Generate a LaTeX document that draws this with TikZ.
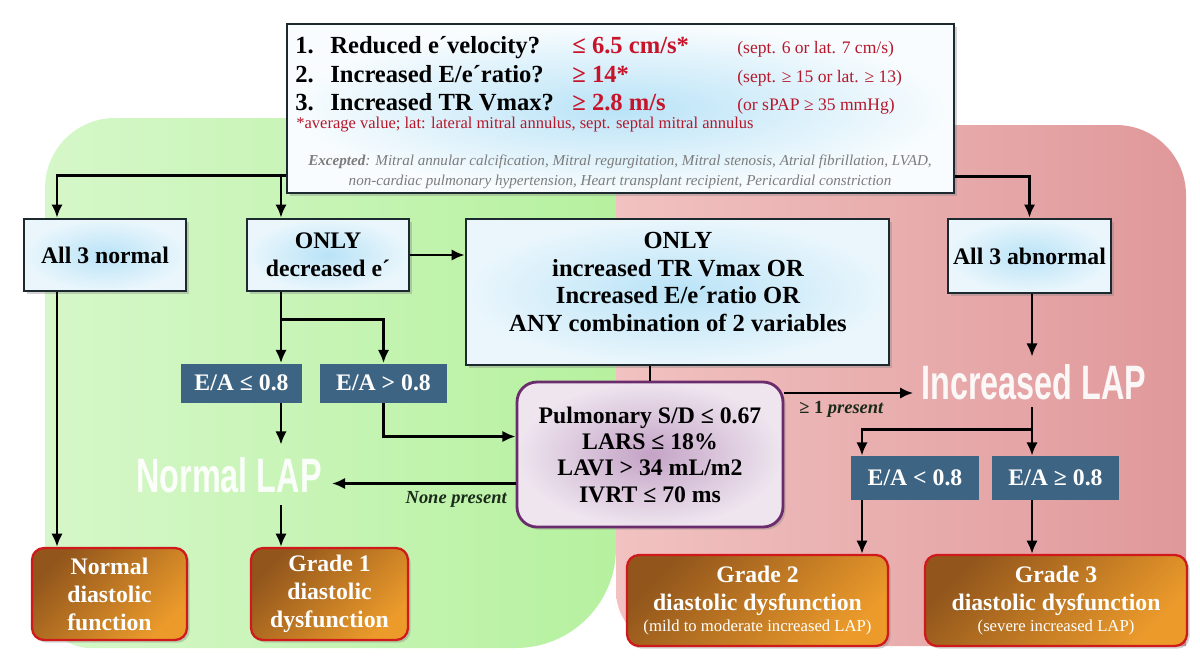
\documentclass[tikz,border=0pt]{standalone}
\usepackage{fontspec}
\setmainfont{Liberation Serif}
\newfontfamily\condfont[FakeStretch=0.67]{Liberation Sans}
\usetikzlibrary{arrows.meta,shadows,calc}
\definecolor{grnL}{HTML}{D6F7C9}
\definecolor{grnR}{HTML}{B6F19F}
\definecolor{redL}{HTML}{F1C2C1}
\definecolor{redR}{HTML}{E0989A}
\definecolor{bluIn}{HTML}{B9E3F7}
\definecolor{bluOut}{HTML}{EAF6FC}
\definecolor{boxLine}{HTML}{1C2A30}
\definecolor{slate}{HTML}{3D6483}
\definecolor{orA}{HTML}{92561C}
\definecolor{orB}{HTML}{EC9B2B}
\definecolor{orLine}{HTML}{D0191B}
\definecolor{puIn}{HTML}{C4A3C6}
\definecolor{puOut}{HTML}{EEE5EF}
\definecolor{puLine}{HTML}{6A2C6C}
\definecolor{valRed}{HTML}{C8142A}
\definecolor{noteRed}{HTML}{B5172B}
\definecolor{grayTxt}{HTML}{7C7C7C}
\definecolor{darkTxt}{HTML}{1A2A1A}
\tikzset{
  shad/.style={drop shadow={opacity=0.35,shadow xshift=1.5pt,shadow yshift=-1.5pt}},
  lbox/.style={draw=boxLine, line width=1.5pt, inner color=bluIn, outer color=bluOut, shad,
    font=\bfseries\fontsize{13.5}{15.9}\selectfont, align=center, inner sep=0pt},
  sbox/.style={fill=slate, text=white, font=\bfseries\fontsize{13.5}{15}\selectfont, inner sep=0pt},
  obox/.style={draw=orLine, line width=1.3pt, rounded corners=0.24cm, top color=orA, bottom color=orB,
    shading angle=45, text=white, font=\bfseries\fontsize{13.5}{15.9}\selectfont, align=center,
    inner sep=0pt, shad},
  pbox/.style={draw=puLine, line width=1.6pt, rounded corners=0.4cm, inner color=puIn, outer color=puOut,
    font=\bfseries\fontsize{13.5}{15}\selectfont, align=center, inner sep=0pt, shad},
  lap/.style={text=white, text opacity=0.92, font=\condfont\bfseries\fontsize{27.5}{30}\selectfont, inner sep=0pt},
  qtxt/.style={anchor=base west, inner sep=0pt, font=\bfseries\fontsize{14}{16}\selectfont},
  vtxt/.style={anchor=base west, inner sep=0pt, text=valRed, font=\bfseries\fontsize{14}{16}\selectfont},
  ntxt/.style={anchor=base west, inner sep=0pt, text=noteRed, font=\fontsize{10}{12}\selectfont},
  etxt/.style={anchor=base, inner sep=0pt, text=grayTxt, font=\itshape\fontsize{8.6}{10}\selectfont},
  arr/.style={line width=1.6pt, -{Latex[length=7.5pt,width=6.5pt]}},
  conn/.style={line width=1.6pt},
}
\begin{document}
\begin{tikzpicture}[x=0.02cm,y=-0.02cm]
\useasboundingbox (0,0) rectangle (1200,663);
% background regions
\shade[left color=grnL, right color=grnR] (616,118) -- (115,118)
  arc[start angle=270, end angle=180, radius=70] -- (45,603)
  arc[start angle=180, end angle=90, radius=45] -- (516,648)
  arc[start angle=90, end angle=0, radius=100] -- cycle;
\shade[left color=redL, right color=redR] (616,125) -- (1116,125)
  arc[start angle=270, end angle=360, radius=70] -- (1186,646) -- (671,646)
  arc[start angle=90, end angle=180, radius=55] -- cycle;

% column coordinates
\coordinate (c57) at (57,0);
\coordinate (c281) at (281,0);
\coordinate (c862) at (862,0);
\coordinate (c1032) at (1032,0);

% top box
\node[lbox, minimum width=13.34cm, minimum height=3.38cm, outer color=white!70!bluOut] (T) at (620.5,108.5) {};
\node[qtxt] (q1n) at (295,53) {1.};
\node[qtxt] (q1) at (330,53) {Reduced e´velocity?};
\node[vtxt] (v1) at (572,53) {≤ 6.5 cm/s*};
\node[ntxt] (n1) at (737,53) {(sept. 6 or lat. 7 cm/s)};
\node[qtxt] (q2n) at (295,82) {2.};
\node[qtxt] (q2) at (330,82) {Increased E/e´ratio?};
\node[vtxt] (v2) at (572,82) {≥ 14*};
\node[ntxt] (n2) at (737,82) {(sept. ≥ 15 or lat. ≥ 13)};
\node[qtxt] (q3n) at (295,110) {3.};
\node[qtxt] (q3) at (330,110) {Increased TR Vmax?};
\node[vtxt] (v3) at (572,110) {≥ 2.8 m/s};
\node[ntxt] (n3) at (737,110) {(or sPAP ≥ 35 mmHg)};
\node[anchor=base west, inner sep=0pt, text=noteRed, font=\fontsize{9.4}{11}\selectfont] (avg) at (296,128)
  {*average value; lat: lateral mitral annulus, sept. septal mitral annulus};
\node[etxt] (ex1) at (620,165) {\textbf{Excepted}: Mitral annular calcification, Mitral regurgitation, Mitral stenosis, Atrial fibrillation, LVAD,};
\node[etxt] (ex2) at (620,185) {non-cardiac pulmonary hypertension, Heart transplant recipient, Pericardial constriction};

% second row
\node[lbox, minimum width=3.24cm, minimum height=1.44cm] (All3N) at (105,255) {All 3 normal};
\node[lbox, minimum width=3.24cm, minimum height=1.44cm] (OnlyE) at (328,255) {ONLY\\decreased e´};
\node[lbox, minimum width=8.46cm, minimum height=2.92cm] (OnlyTR) at (677.5,292) {};
\node[inner sep=0pt, align=center, font=\bfseries\fontsize{14}{15.6}\selectfont] (OnlyTRtxt) at (678,282)
  {ONLY\\increased TR Vmax OR\\Increased E/e´ratio OR\\ANY combination of 2 variables};
\node[lbox, minimum width=3.26cm, minimum height=1.48cm] (All3A) at (1029.5,256) {All 3 abnormal};

% E/A boxes left
\node[sbox, minimum width=2.42cm, minimum height=0.78cm] (EAle) at (241.5,383) {E/A ≤ 0.8};
\node[sbox, minimum width=2.54cm, minimum height=0.78cm] (EAgt) at (383.5,383) {E/A > 0.8};

% pulmonary box
\node[pbox, minimum width=5.32cm, minimum height=2.9cm] (Pulm) at (650,454.5)
  {Pulmonary S/D ≤ 0.67\\LARS ≤ 18\%\\LAVI > 34 mL/m2\\IVRT ≤ 70 ms};

% LAP labels
\node[lap, minimum height=1.2cm, inner xsep=0.2cm] (NLAP) at (229,475) {Normal LAP};
\node[lap, minimum height=1.0cm, inner xsep=0.16cm] (ILAP) at (1034,382) {Increased LAP};

% E/A boxes right
\node[sbox, minimum width=2.56cm, minimum height=0.88cm] (EAlt) at (915,478) {E/A < 0.8};
\node[sbox, minimum width=2.54cm, minimum height=0.88cm] (EAge) at (1055.5,478) {E/A ≥ 0.8};

% outcome boxes
\node[obox, minimum width=3.1cm, minimum height=1.84cm] (NDF) at (109.5,594) {Normal\\diastolic\\function};
\node[obox, minimum width=3.14cm, minimum height=1.84cm] (G1) at (329.5,594) {Grade 1\\diastolic\\dysfunction};
\node[obox, minimum width=5.22cm, minimum height=1.82cm] (G2) at (757.5,600.5)
  {Grade 2\\diastolic dysfunction\\[-4pt]{\mdseries\fontsize{9.5}{11}\selectfont (mild to moderate increased LAP)}};
\node[obox, minimum width=5.24cm, minimum height=1.82cm] (G3) at (1056,600.5)
  {Grade 3\\diastolic dysfunction\\[-4pt]{\mdseries\fontsize{9.5}{11}\selectfont (severe increased LAP)}};

% connectors
\coordinate (tl) at ($(T.south west)+(0,-19)$);
\coordinate (tr) at ($(T.south east)+(0,-18)$);
\draw[arr] (tl) -| (c57 |- All3N.north);
\draw[arr] (tl -| c281) -- (c281 |- OnlyE.north);
\draw[arr] (tr) -| (All3A.north);
\draw[arr] (OnlyE.east) -- (OnlyE.east -| OnlyTR.west);
\draw[arr] (c281 |- OnlyE.south) -- (c281 |- EAle.north);
\coordinate (br1) at ($(c281 |- OnlyE.south)+(0,27)$);
\draw[arr] (br1) -| (EAgt.north);
\coordinate (pin) at ($(Pulm.west)+(0,-18)$);
\draw[arr] (EAgt.south) |- (pin);
\draw[conn] (OnlyTR.south -| Pulm.north) -- (Pulm.north);
\coordinate (pout) at ($(Pulm.west)+(0,29)$);
\draw[arr] (pout) -- (pout -| NLAP.east);
\node[anchor=base east, inner sep=0pt, text=darkTxt, font=\bfseries\itshape\fontsize{10.5}{12}\selectfont] (nonep) at (507,503) {None present};
\draw[arr] (c281 |- EAle.south) -- (c281 |- NLAP.north);
\draw[arr] (c281 |- NLAP.south) -- (c281 |- G1.north);
\draw[arr] (c57 |- All3N.south) -- (c57 |- NDF.north);
\coordinate (pright) at ($(Pulm.east)+(0,-61.5)$);
\draw[arr] (pright) -- (pright -| ILAP.west);
\node[anchor=base west, inner sep=0pt, text=darkTxt, font=\bfseries\fontsize{10.5}{12}\selectfont] (onep) at (799,413) {≥ 1 \itshape present};
\draw[arr] (c1032 |- All3A.south) -- (c1032 |- ILAP.north);
\draw[arr] (c1032 |- ILAP.south) -- (c1032 |- EAge.north);
\coordinate (br2) at ($(c1032 |- ILAP.south)+(0,22)$);
\draw[arr] (br2) -| (c862 |- EAlt.north);
\draw[arr] (c862 |- EAlt.south) -- (c862 |- G2.north);
\draw[arr] (c1032 |- EAge.south) -- (c1032 |- G3.north);
\end{tikzpicture}
\end{document}
